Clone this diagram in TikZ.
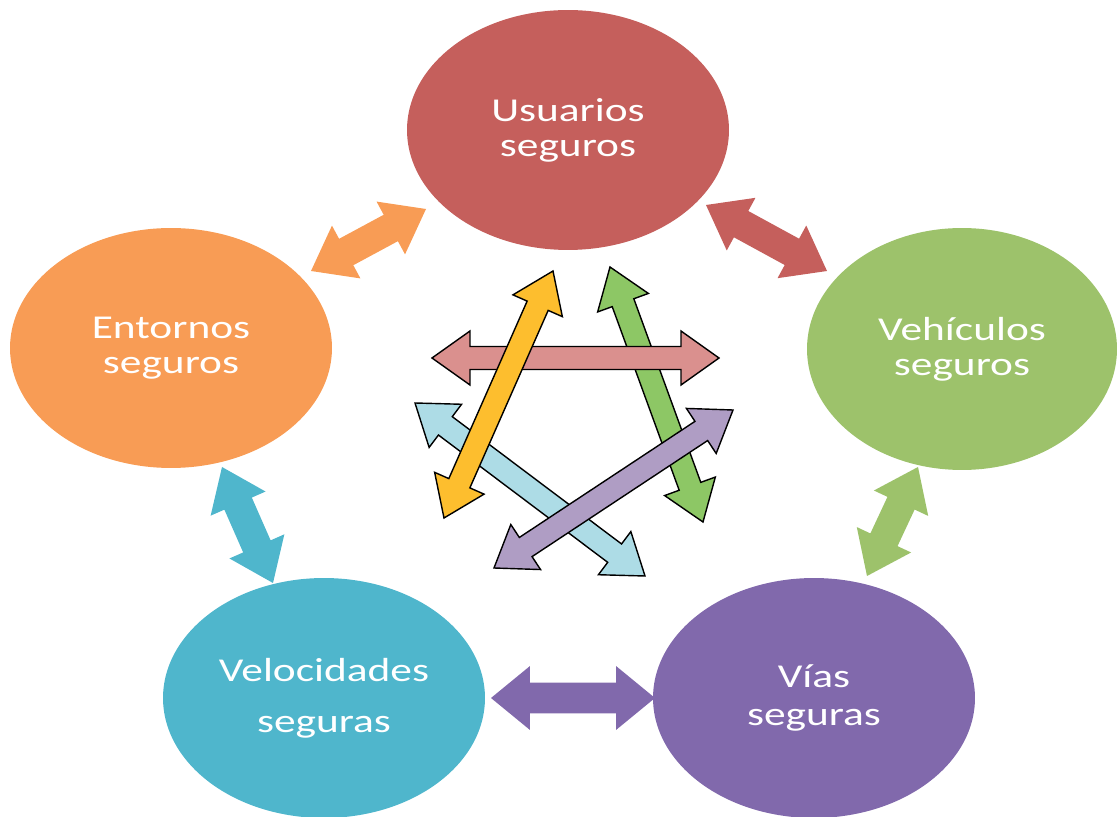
\documentclass[tikz,border=0pt]{standalone}
\usepackage{fontspec}
\setsansfont[FakeStretch=1.3]{Carlito}
\usetikzlibrary{shapes.geometric, calc}

\definecolor{usured}{HTML}{C55F5C}
\definecolor{vehgreen}{HTML}{9DC26B}
\definecolor{viapurple}{HTML}{8169AC}
\definecolor{velcyan}{HTML}{4FB6CC}
\definecolor{entorange}{HTML}{F89C55}
\definecolor{lightred}{HTML}{DA908E}
\definecolor{gold}{HTML}{FDBE2E}
\definecolor{leaf}{HTML}{8DC765}
\definecolor{lightblue}{HTML}{ADDCE6}
\definecolor{lavender}{HTML}{AF9DC4}

% block arrow with two heads: style, from, to, shaft half width, head half width, head length
\newcommand{\blockarrow}[6]{%
  \coordinate (ba1) at ($(#2)!#6!(#3)$);
  \coordinate (ba2) at ($(#3)!#6!(#2)$);
  \path[#1] (#2) -- ($(ba1)!#5!90:(#3)$) -- ($(ba1)!#4!90:(#3)$)
    -- ($(ba2)!#4!-90:(#2)$) -- ($(ba2)!#5!-90:(#2)$) -- (#3)
    -- ($(ba2)!#5!90:(#2)$) -- ($(ba2)!#4!90:(#2)$)
    -- ($(ba1)!#4!-90:(#3)$) -- ($(ba1)!#5!-90:(#3)$) -- cycle;}

\begin{document}
\begin{tikzpicture}[x=0.02cm,y=-0.02cm,
  goal node/.style={ellipse,inner sep=0pt,text=white,align=center,
    minimum width=6.44cm,minimum height=4.8cm,
    font=\sffamily\fontsize{19}{20}\selectfont},
  outer arrow/.style={fill=#1},
  inner arrow/.style={fill=#1,draw=black,line width=0.8pt,line join=miter}]
  \useasboundingbox (0,0) rectangle (1117,817);

  \node[goal node, fill=usured] (1) at (568,130) {Usuarios\\seguros};
  \node[goal node, fill=vehgreen, minimum width=6.2cm, minimum height=4.84cm] (2) at (962,349) {Vehículos\\seguros};
  \node[goal node, fill=viapurple] (3) at (814,698) {Vías\\[2pt]seguras};
  \node[goal node, fill=velcyan] (4) at (324,698) {Velocidades\\[9pt]seguras};
  \node[goal node, fill=entorange] (5) at (171,348) {Entornos\\seguros};

  % arrows between the circles
  \coordinate (o1a) at (311,271);  \coordinate (o1b) at (426,209);
  \coordinate (o2a) at (706,205);  \coordinate (o2b) at (827,271);
  \coordinate (o3a) at (918,467);  \coordinate (o3b) at (867,576);
  \coordinate (o4a) at (491,698);  \coordinate (o4b) at (655,698);
  \coordinate (o5a) at (222,467);  \coordinate (o5b) at (273,583);
  \blockarrow{outer arrow=entorange}{o1a}{o1b}{0.3cm}{0.6cm}{0.8cm}
  \blockarrow{outer arrow=usured}{o2a}{o2b}{0.3cm}{0.6cm}{0.8cm}
  \blockarrow{outer arrow=vehgreen}{o3a}{o3b}{0.3cm}{0.6cm}{0.8cm}
  \blockarrow{outer arrow=viapurple}{o4a}{o4b}{0.31cm}{0.64cm}{0.78cm}
  \blockarrow{outer arrow=velcyan}{o5a}{o5b}{0.3cm}{0.6cm}{0.8cm}

  % star in the middle
  \coordinate (i1a) at (415,403);  \coordinate (i1b) at (645,576);
  \coordinate (i2a) at (610,267);  \coordinate (i2b) at (703,522);
  \coordinate (i3a) at (432,358);  \coordinate (i3b) at (719,358);
  \coordinate (i4a) at (553,271);  \coordinate (i4b) at (444,518);
  \coordinate (i5a) at (733,410);  \coordinate (i5b) at (494,568);
  \blockarrow{inner arrow=lightblue}{i1a}{i1b}{0.23cm}{0.54cm}{0.76cm}
  \blockarrow{inner arrow=leaf}{i2a}{i2b}{0.23cm}{0.54cm}{0.76cm}
  \blockarrow{inner arrow=lightred}{i3a}{i3b}{0.23cm}{0.54cm}{0.76cm}
  \blockarrow{inner arrow=gold}{i4a}{i4b}{0.23cm}{0.54cm}{0.76cm}
  \blockarrow{inner arrow=lavender}{i5a}{i5b}{0.23cm}{0.54cm}{0.76cm}
\end{tikzpicture}
\end{document}
